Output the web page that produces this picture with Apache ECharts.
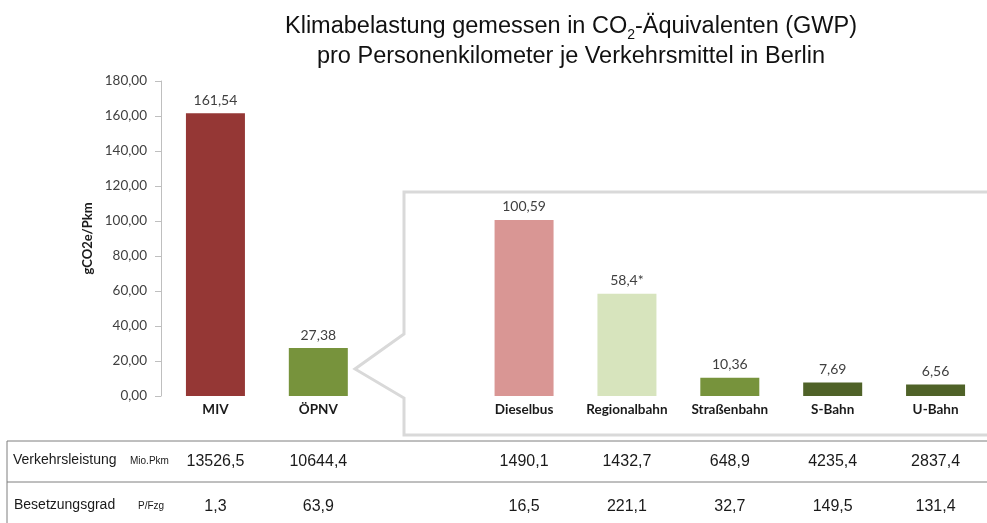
<!DOCTYPE html>
<html>
<head>
<meta charset="utf-8">
<script src="https://cdn.jsdelivr.net/npm/echarts@6/dist/echarts.min.js"></script>
<style>
  html, body { margin: 0; padding: 0; background: #fff; }
  #main { width: 987px; height: 523px; }
</style>
</head>
<body>
<div id="main"></div>
<script>
// Kategorien (die leere Kategorie ist die Lücke vor der Detail-Box)
var categories = ['MIV', 'ÖPNV', '', 'Dieselbus', 'Regionalbahn', 'Straßenbahn', 'S-Bahn', 'U-Bahn'];
// gCO2e/Pkm
var values = [161.54, 27.38, null, 100.59, 58.4, 10.36, 7.69, 6.56];
var valueLabels = ['161,54', '27,38', '', '100,59', '58,4*', '10,36', '7,69', '6,56'];
var barColors = ['#953735', '#77933C', '#ffffff', '#D99694', '#D7E4BD', '#77933C', '#4F6228', '#4F6228'];
// Tabelle unter dem Diagramm
var verkehrsleistung = ['13526,5', '10644,4', ' ', '1490,1', '1432,7', '648,9', '4235,4', '2837,4'];
var besetzungsgrad = ['1,3', '63,9', '  ', '16,5', '221,1', '32,7', '149,5', '131,4'];

var chart = echarts.init(document.getElementById('main'));

var tableAxis = function (data, offset) {
  return {
    type: 'category',
    gridIndex: 0,
    position: 'bottom',
    offset: offset,
    data: data,
    axisLine: { show: false },
    axisTick: { show: false },
    axisLabel: {
      interval: 0,
      margin: 0,
      verticalAlign: 'middle',
      color: '#1a1a1a',
      fontFamily: 'Liberation Sans, Arial',
      fontSize: 16
    }
  };
};

var option = {
  animation: false,
  title: {
    left: 566,
    top: 7,
    textAlign: 'center',
    text: '{a|Klimabelastung gemessen in CO}{s|2}{a|-Äquivalenten (GWP)}\n{a|pro Personenkilometer je Verkehrsmittel in Berlin}',
    textStyle: {
      fontWeight: 'normal',
      rich: {
        a: { fontFamily: 'Liberation Sans, Arial', fontWeight: 'normal', fontSize: 23.5, color: '#111', lineHeight: 30 },
        s: { fontFamily: 'Liberation Sans, Arial', fontWeight: 'normal', fontSize: 14, color: '#111', lineHeight: 15, verticalAlign: 'bottom' }
      }
    }
  },
  grid: { left: 164, right: -3, top: 81, bottom: 127 },
  xAxis: [
    {
      type: 'category',
      data: categories,
      axisLine: { show: false },
      axisTick: { show: false },
      axisLabel: {
        interval: 0,
        margin: 7,
        color: '#1a1a1a',
        fontFamily: 'Lato',
        fontWeight: 'bold',
        fontSize: 13.5
      }
    },
    tableAxis(verkehrsleistung, 66),
    tableAxis(besetzungsgrad, 111)
  ],
  yAxis: {
    type: 'value',
    min: 0,
    max: 180,
    interval: 20,
    offset: 3,
    name: 'gCO2e/Pkm',
    nameLocation: 'middle',
    nameGap: 66,
    nameTextStyle: { fontFamily: 'Lato', fontWeight: 'bold', fontSize: 13, color: '#1a1a1a' },
    axisLine: { show: true, lineStyle: { color: '#BFBFBF', width: 1 } },
    axisTick: { show: true, length: 6, lineStyle: { color: '#BFBFBF' } },
    splitLine: { show: false },
    axisLabel: {
      margin: 14,
      color: '#404040',
      fontFamily: 'Lato',
      fontSize: 13.5,
      formatter: function (v) { return v.toFixed(2).replace('.', ','); }
    }
  },
  series: [{
    type: 'bar',
    barWidth: 59,
    data: values.map(function (v, i) {
      return { value: v, itemStyle: { color: barColors[i] } };
    }),
    label: {
      show: true,
      position: 'top',
      distance: 6,
      color: '#404040',
      fontFamily: 'Lato',
      fontSize: 14,
      formatter: function (p) { return valueLabels[p.dataIndex]; }
    }
  }],
  graphic: [
    // Detail-Box mit Zeiger auf ÖPNV
    {
      type: 'polyline',
      shape: { points: [[995, 192], [404, 192], [404, 334], [355, 369], [404, 398], [404, 435], [995, 435]] },
      style: { stroke: '#D9D9D9', lineWidth: 3, fill: null }
    },
    // Tabellenlinien
    { type: 'line', shape: { x1: 7, y1: 441, x2: 987, y2: 441 }, style: { stroke: '#7F7F7F', lineWidth: 1 } },
    { type: 'line', shape: { x1: 7, y1: 482, x2: 987, y2: 482 }, style: { stroke: '#7F7F7F', lineWidth: 1 } },
    { type: 'line', shape: { x1: 7, y1: 441, x2: 7, y2: 523 }, style: { stroke: '#7F7F7F', lineWidth: 1 } },
    // Zeilenbeschriftungen
    { type: 'text', left: 13, top: 453, style: { text: 'Verkehrsleistung', font: '14px Liberation Sans, Arial', fill: '#1a1a1a' } },
    { type: 'text', left: 130, top: 456, style: { text: 'Mio.Pkm', font: '10px Liberation Sans, Arial', fill: '#1a1a1a' } },
    { type: 'text', left: 14, top: 498, style: { text: 'Besetzungsgrad', font: '14px Liberation Sans, Arial', fill: '#1a1a1a' } },
    { type: 'text', left: 138, top: 501, style: { text: 'P/Fzg', font: '10px Liberation Sans, Arial', fill: '#1a1a1a' } }
  ]
};

chart.setOption(option);
</script>
</body>
</html>
